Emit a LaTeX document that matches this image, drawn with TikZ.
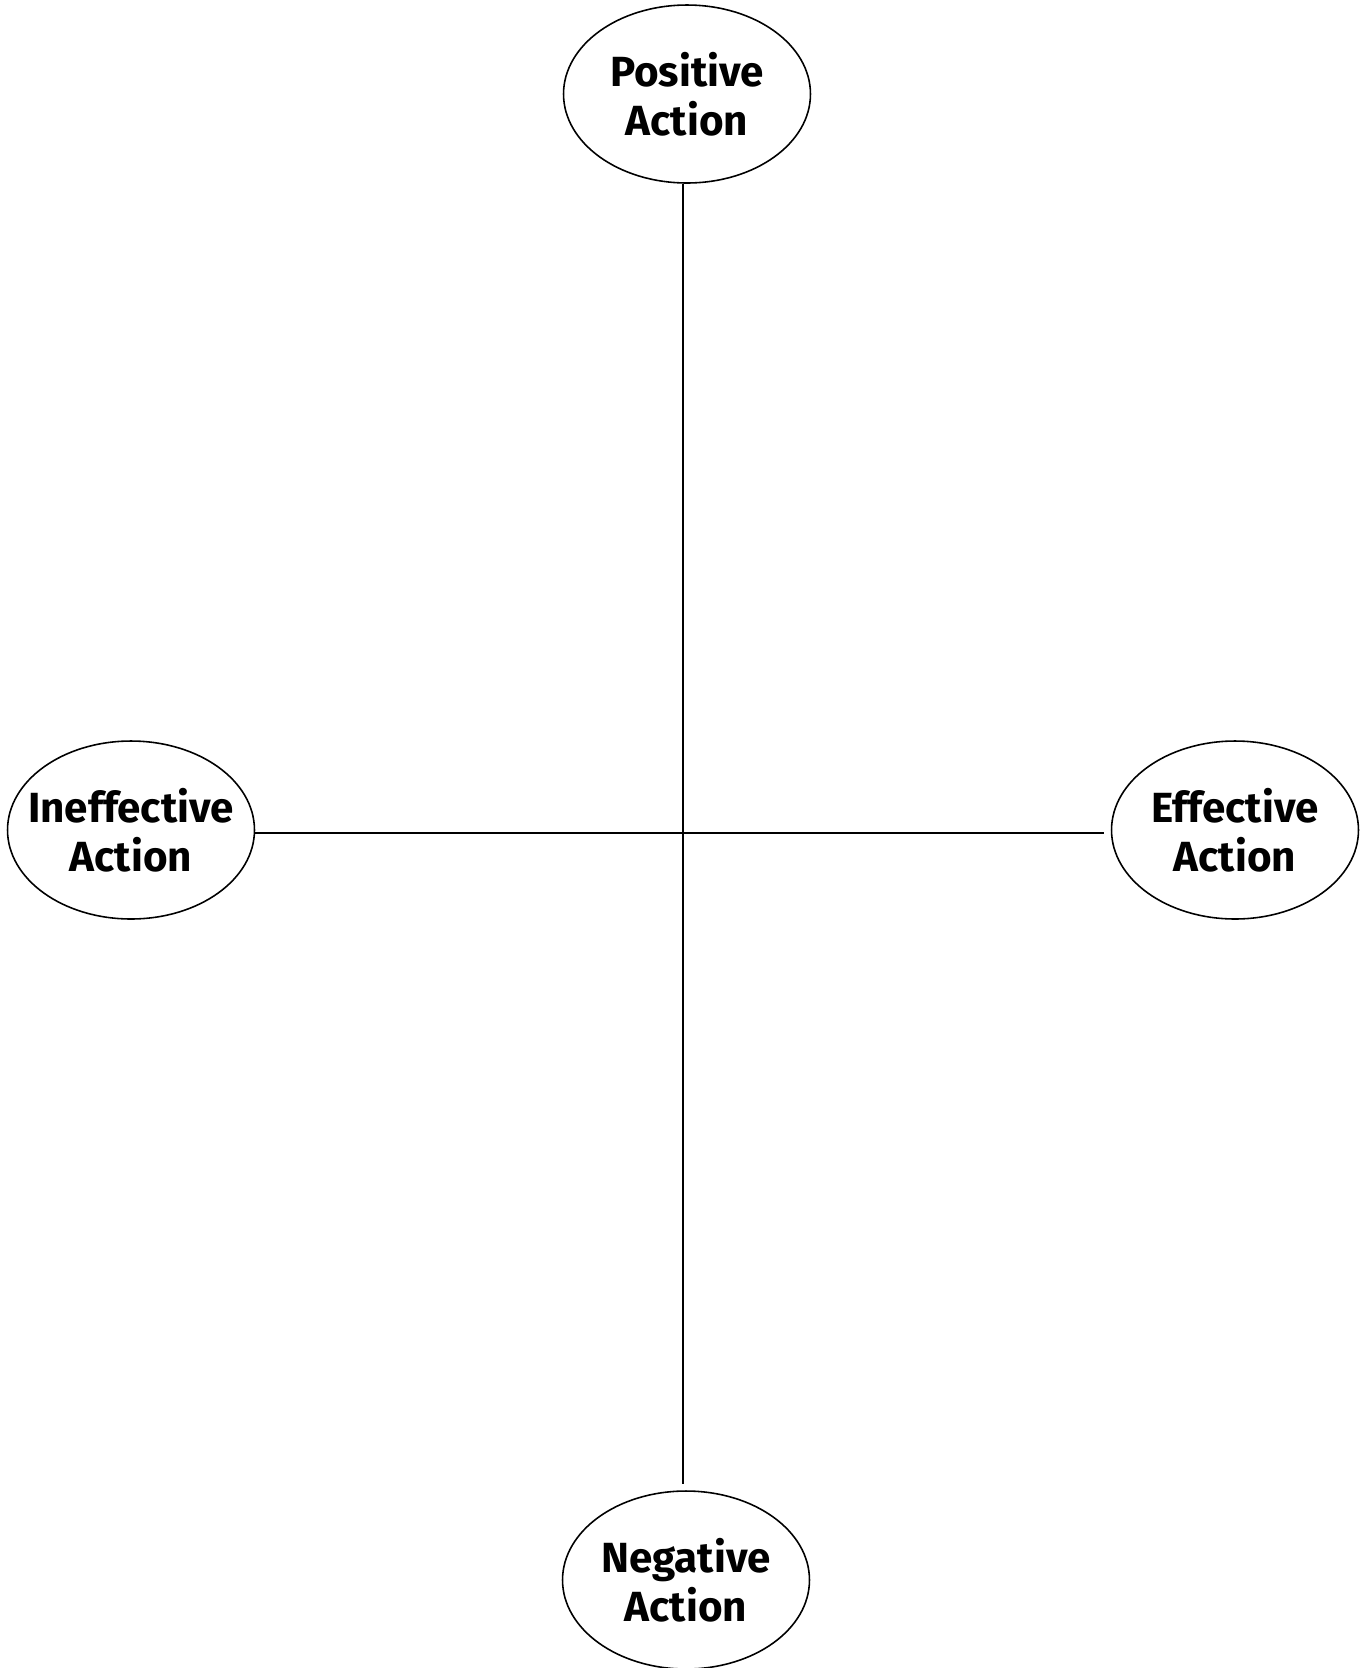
\documentclass[tikz,border=0pt]{standalone}
\usepackage{fontspec}
\setmainfont{Fira Sans}
\usetikzlibrary{shapes.geometric,positioning}

\begin{document}
\begin{tikzpicture}[
    x=0.02cm, y=-0.02cm,
    action/.style={draw, ellipse, line width=0.9pt, minimum width=4.94cm,
                   minimum height=3.56cm, inner sep=-1cm, align=center,
                   font=\fontsize{24}{28}\selectfont\bfseries},
    axis/.style={line width=1.2pt}
]
\useasboundingbox (0,0) rectangle (1364,1668);

% Actions
\node[action] (pos) at (687, 94) {Positive\\Action};
\node[action] (neg) at (686, 1580) {Negative\\Action};
\node[action] (ineff) at (131, 830) {Ineffective\\Action};
\node[action] (eff) at (1235, 830) {Effective\\Action};

% Axes
\draw[axis] (683, 0 |- pos.south) -- ([yshift=0.12cm]683, 0 |- neg.north);
\draw[axis] (ineff.east |- 0, 833) -- ([xshift=-0.14cm]eff.west |- 0, 833);

\end{tikzpicture}
\end{document}
